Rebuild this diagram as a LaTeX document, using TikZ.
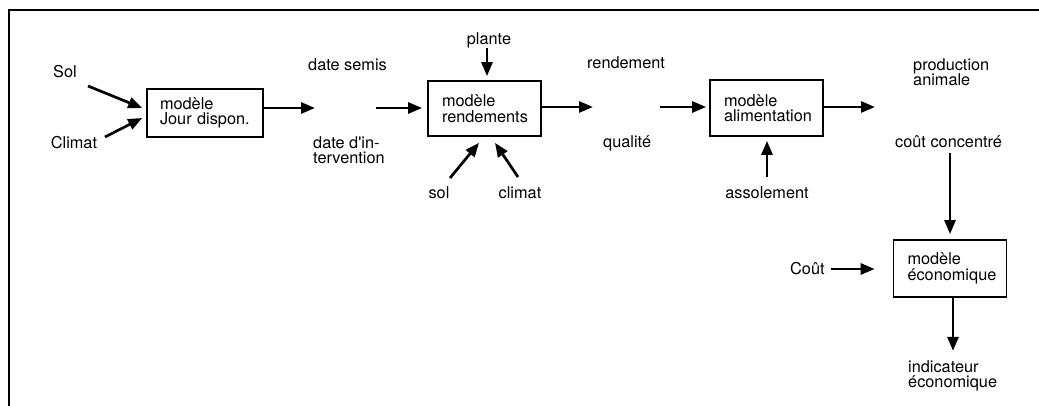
\documentclass[tikz,border=0pt]{standalone}
\usepackage{fontspec}
\setmainfont{TeX Gyre Heros}
\usetikzlibrary{arrows.meta,calc}

\begin{document}
\begin{tikzpicture}[x=1pt,y=-1pt,
  every node/.style={font=\fontsize{16.3}{15.5}\selectfont},
  lbl/.style={inner sep=0pt, align=left},
  modbox/.style={draw, line width=1.7pt, align=left, text width=85pt,
                 inner xsep=14pt, inner ysep=0pt},
  arr/.style={line width=2.7pt, -{Triangle[length=14pt,width=11pt]}},
  frame/.style={line width=1.8pt}]

\useasboundingbox (0,0) rectangle (1039,406);

% outer frame (top and left edges)
\draw[frame] (1039,10) -- (9,10) -- (9,406);

% model boxes
\node[modbox, minimum height=48pt, text width=90pt, inner xsep=13pt] (box1) at (205,113) {modèle\\Jour dispon.};
\node[modbox, minimum height=55pt] (box2) at (484.5,108.5) {modèle\\rendements};
\node[modbox, minimum height=56pt] (box3) at (766.5,108) {modèle\\alimentation};
\node[modbox, minimum height=57pt] (box4) at (950,268.5) {modèle\\économique};

% inputs and outputs
\node[lbl] (sol) at (65,72) {Sol};
\node[lbl] (climat) at (74,143) {Climat};
\node[lbl, anchor=west] (semis) at (308,65) {date semis};
\node[lbl, anchor=west] (interv) at (313,150) {date d\textquotesingle in-\\tervention};
\node[lbl] (plante) at (489,40) {plante};
\node[lbl] (sol2) at (439,193) {sol};
\node[lbl] (climat2) at (520,193) {climat};
\node[lbl, anchor=west] (rend) at (587,63) {rendement};
\node[lbl, anchor=west] (qual) at (603,143) {qualité};
\node[lbl] (assol) at (767,193) {assolement};
\node[lbl, anchor=west] (prod) at (913,72) {production\\animale};
\node[lbl, anchor=west] (cconc) at (895,142) {coût concentré};
\node[lbl, anchor=west] (cout) at (790,269) {Coût};
\node[lbl, anchor=west] (indic) at (908,376) {indicateur\\économique};

% free ends of the flow arrows
\coordinate (e1) at (315,108);
\coordinate (s2) at (376,108);
\coordinate (e2) at (593,107);
\coordinate (s3) at (660,107);
\coordinate (e3) at (875,107);

% connectors
\draw[arr] ($(sol.center)+(23,14)$) -- ($(box1.west)+(-4,-5)$);
\draw[arr] ($(climat.center)+(31,-6)$) -- ($(box1.west)+(-4,5)$);
\draw[arr] (box1.east |- e1) -- (e1);
\draw[arr] (s2) -- ($(box2.west |- s2)+(-5,0)$);
\draw[arr] ($(plante.center)+(-2,8)$) -- ($(box2.north)+(2.5,-4)$);
\draw[arr] ($(sol2.center)+(11,-15)$) -- ($(box2.south)+(-5.5,6)$);
\draw[arr] ($(climat2.center)+(-2,-16)$) -- ($(box2.south)+(10.5,6)$);
\draw[arr] (box2.east |- e2) -- (e2);
\draw[arr] (s3) -- ($(box3.west |- s3)+(-3,0)$);
\draw[arr] ($(assol.center)+(0,-16)$) -- ($(box3.south)+(0.5,4)$);
\draw[arr] (box3.east |- e3) -- (e3);
\draw[arr] ($(box4.north |- cconc.center)+(0,11)$) -- ($(box4.north)+(0,-5)$);
\draw[arr] ($(cout.east)+(6,0)$) -- ($(box4.west)+(-18,0.5)$);
\draw[arr] ($(box4.south)+(3,0)$) -- ($(box4.south)+(3,53)$);
\end{tikzpicture}
\end{document}
